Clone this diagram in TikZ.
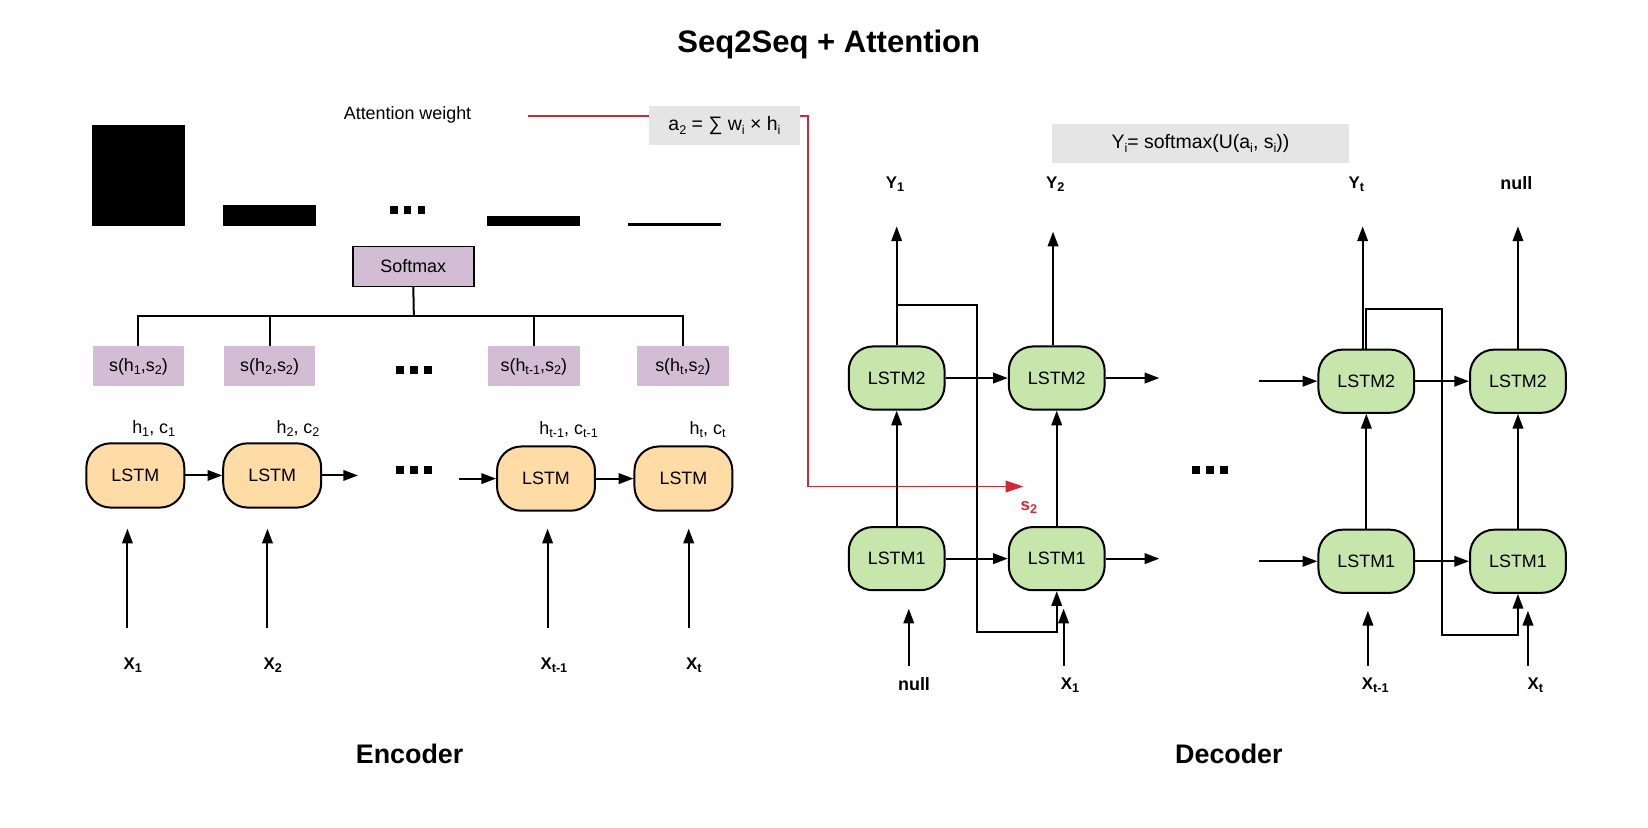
\documentclass[tikz,border=0pt]{standalone}
\usepackage{fontspec}
\setmainfont{Liberation Sans}
\usetikzlibrary{arrows.meta}
\definecolor{encfill}{HTML}{FFDBA6}
\definecolor{decfill}{HTML}{C6E6AB}
\definecolor{purp}{HTML}{D2BDD4}
\definecolor{grayb}{HTML}{E5E5E5}
\definecolor{redl}{HTML}{CF2A38}
\newcommand\sbs[1]{\raisebox{-0.35ex}{\fontsize{12}{12}\selectfont #1}}
\begin{document}
\begin{tikzpicture}[x=1pt,y=-1pt,
  txt/.style={font=\fontsize{17}{20}\selectfont, inner sep=0pt},
  bold/.style={font=\fontsize{16}{19}\selectfont\bfseries, inner sep=0pt},
  big/.style={font=\fontsize{25.5}{30}\selectfont\bfseries, inner sep=0pt},
  lstm/.style={draw, line width=1.9pt, rounded corners=23pt, minimum width=93pt, minimum height=61pt, inner sep=0pt, font=\fontsize{17}{20}\selectfont},
  enc/.style={lstm, fill=encfill},
  dec/.style={lstm, fill=decfill, minimum width=91pt, minimum height=60pt},
  sbox/.style={fill=purp, minimum width=87pt, minimum height=38pt, inner sep=0pt, font=\fontsize{17}{20}\selectfont},
  fbox/.style={fill=grayb, minimum height=37pt, inner sep=0pt, font=\fontsize{18.5}{22}\selectfont},
  arr/.style={line width=1.9pt, -{Triangle[length=14pt,width=10pt]}},
  ln/.style={line width=1.9pt},
  threedots/.pic={\fill (-17,-3.75) rectangle ++(7.5,7.5); \fill (-3.75,-3.75) rectangle ++(7.5,7.5); \fill (9.5,-3.75) rectangle ++(7.5,7.5);}
]
\fill[white] (0,0) rectangle (1565,786);
\useasboundingbox (0,0) rectangle (1565,786);

% title
\node[font=\fontsize{29.5}{34}\selectfont\bfseries, inner sep=0pt] (title) at (787,42) {Seq2Seq + Attention};

% ---------------- Encoder ----------------
\node[txt] (aw) at (387,109) {Attention weight};
\coordinate (r0) at (501,110);
\coordinate (r1) at (767,110);
\coordinate (r2) at (767,462);
\coordinate (r3) at (972,462);
\draw[redl, line width=1.7pt, -{Triangle[length=17pt,width=11pt]}] (r0) -- (r1) -- (r2) -- (r3);
\node[fbox, minimum width=144pt] (a2) at (688,119.5) {a\sbs{2} = ∑ w\sbs{i} × h\sbs{i}};

% attention weight bars
\fill (87,119) rectangle (176,215);
\fill (212,195) rectangle (300,215);
\pic at (387,199) {threedots};
\fill (462,205) rectangle (551,215);
\fill (596,212) rectangle (685,215);

% softmax and scores
\node[draw, fill=purp, line width=1.5pt, minimum width=115pt, minimum height=38pt, txt] (soft) at (392.5,253) {Softmax};
\node[sbox] (s1) at (131.5,348) {s(h\sbs{1},s\sbs{2})};
\node[sbox] (s2) at (256,348) {s(h\sbs{2},s\sbs{2})};
\pic at (393,351) {threedots};
\node[sbox] (s4) at (507,348) {s(h\sbs{t-1},s\sbs{2})};
\node[sbox] (s5) at (648.5,348) {s(h\sbs{t},s\sbs{2})};
\coordinate (bus) at (393,300);
\draw[ln] (soft.south) -- (bus);
\draw[ln] (s1.north) -- (s1.north |- bus) -- (s5.north |- bus) -- (s5.north);
\draw[ln] (s2.north |- bus) -- (s2.north);
\draw[ln] (s4.north |- bus) -- (s4.north);

% hidden state labels
\node[txt] (hl1) at (146,407) {h\sbs{1}, c\sbs{1}};
\node[txt] (hl2) at (283,407) {h\sbs{2}, c\sbs{2}};
\node[txt] (hl3) at (540,408) {h\sbs{t-1}, c\sbs{t-1}};
\node[txt] (hl4) at (672,408) {h\sbs{t}, c\sbs{t}};

% encoder LSTMs
\node[enc] (e1) at (128.5,451.5) {LSTM};
\node[enc] (e2) at (258.5,451.5) {LSTM};
\node[enc] (e3) at (518.5,454.5) {LSTM};
\node[enc] (e4) at (649,454.5) {LSTM};
\coordinate (e2o) at (340,451.5);
\coordinate (e3i) at (436,454.5);
\draw[arr] (e1) -- (e2);
\draw[arr] (e2) -- (e2o);
\pic at (393,446) {threedots};
\draw[arr] (e3i) -- (e3);
\draw[arr] (e3) -- (e4);

% encoder inputs
\coordinate (i1b) at (121,596); \coordinate (i1t) at (121,502);
\coordinate (i2b) at (254,596); \coordinate (i2t) at (254,502);
\coordinate (i3b) at (520,596); \coordinate (i3t) at (520,502);
\coordinate (i4b) at (654,596); \coordinate (i4t) at (654,502);
\draw[arr] (i1b) -- (i1t);
\draw[arr] (i2b) -- (i2t);
\draw[arr] (i3b) -- (i3t);
\draw[arr] (i4b) -- (i4t);
\node[bold] (x1) at (126,632) {X\sbs{1}};
\node[bold] (x2) at (259,632) {X\sbs{2}};
\node[bold] (x3) at (526,632) {X\sbs{t-1}};
\node[bold] (x4) at (659,632) {X\sbs{t}};

\node[big] (enclabel) at (389,716) {Encoder};

% ---------------- Decoder ----------------
\node[fbox, minimum width=282pt] (yf) at (1140,136.5) {Y\sbs{i}= softmax(U(a\sbs{i}, s\sbs{i}))};

\node[bold] (y1) at (850,175) {Y\sbs{1}};
\node[bold] (y2) at (1002,175) {Y\sbs{2}};
\node[bold] (yt) at (1288,175) {Y\sbs{t}};
\node[bold, font=\fontsize{17}{20}\selectfont\bfseries] (yn) at (1440,174) {null};

\node[dec] (d2a) at (851.5,359) {LSTM2};
\node[dec] (d2b) at (1003.5,359) {LSTM2};
\node[dec] (d1a) at (851.5,530.5) {LSTM1};
\node[dec] (d1b) at (1003.5,530.5) {LSTM1};
\node[dec] (d2c) at (1297.5,362) {LSTM2};
\node[dec] (d2d) at (1441.5,362) {LSTM2};
\node[dec] (d1c) at (1297.5,533) {LSTM1};
\node[dec] (d1d) at (1441.5,533) {LSTM1};

% outputs
\coordinate (ya) at (851.5,215);
\coordinate (yb) at (1000,220);
\coordinate (yc) at (1294,215);
\coordinate (yd) at (1441.5,215);
\draw[arr] (d2a) -- (ya);
\draw[arr] (d2b.north -| yb) -- (yb);
\draw[arr] (d2c.north -| yc) -- (yc);
\draw[arr] (d2d) -- (yd);

% horizontal links
\coordinate (o2b) at (1101,359);
\coordinate (i2c) at (1196,362);
\coordinate (o1b) at (1101,530.5);
\coordinate (i1c) at (1196,533);
\draw[arr] (d2a) -- (d2b);
\draw[arr] (d2b) -- (o2b);
\draw[arr] (i2c) -- (d2c);
\draw[arr] (d2c) -- (d2d);
\draw[arr] (d1a) -- (d1b);
\draw[arr] (d1b) -- (o1b);
\draw[arr] (i1c) -- (d1c);
\draw[arr] (d1c) -- (d1d);

% vertical links
\draw[arr] (d1a) -- (d2a);
\draw[arr] (d1b) -- (d2b);
\draw[arr] (d1c) -- (d2c);
\draw[arr] (d1d) -- (d2d);

% feedback loops
\coordinate (fa1) at (851.5,290);
\coordinate (fa2) at (928,290);
\coordinate (fa3) at (928,600);
\coordinate (fa4) at (1003.5,600);
\draw[arr] (d2a.north) -- (fa1) -- (fa2) -- (fa3) -- (fa4) -- (d1b.south);
\coordinate (fb1) at (1297.5,293);
\coordinate (fb2) at (1369,293);
\coordinate (fb3) at (1369,603);
\coordinate (fb4) at (1441.5,603);
\draw[arr] (d2c.north) -- (fb1) -- (fb2) -- (fb3) -- (fb4) -- (d1d.south);

% decoder inputs
\coordinate (n1b) at (863,632); \coordinate (n1t) at (863,578);
\coordinate (n2b) at (1010,632); \coordinate (n2t) at (1010,578);
\coordinate (n3b) at (1299,632); \coordinate (n3t) at (1299,580);
\coordinate (n4b) at (1451,632); \coordinate (n4t) at (1451,580);
\draw[arr] (n1b) -- (n1t);
\draw[arr] (n2b) -- (n2t);
\draw[arr] (n3b) -- (n3t);
\draw[arr] (n4b) -- (n4t);
\node[bold, font=\fontsize{17}{20}\selectfont\bfseries] (dn) at (868,650) {null};
\node[bold] (dx1) at (1016,651) {X\sbs{1}};
\node[bold] (dx3) at (1306,651) {X\sbs{t-1}};
\node[bold] (dx4) at (1458,651) {X\sbs{t}};

\node[bold, text=redl] (s2lab) at (977,482) {s\sbs{2}};
\pic at (1149,446) {threedots};

\node[big] (declabel) at (1167,716) {Decoder};
\end{tikzpicture}
\end{document}
